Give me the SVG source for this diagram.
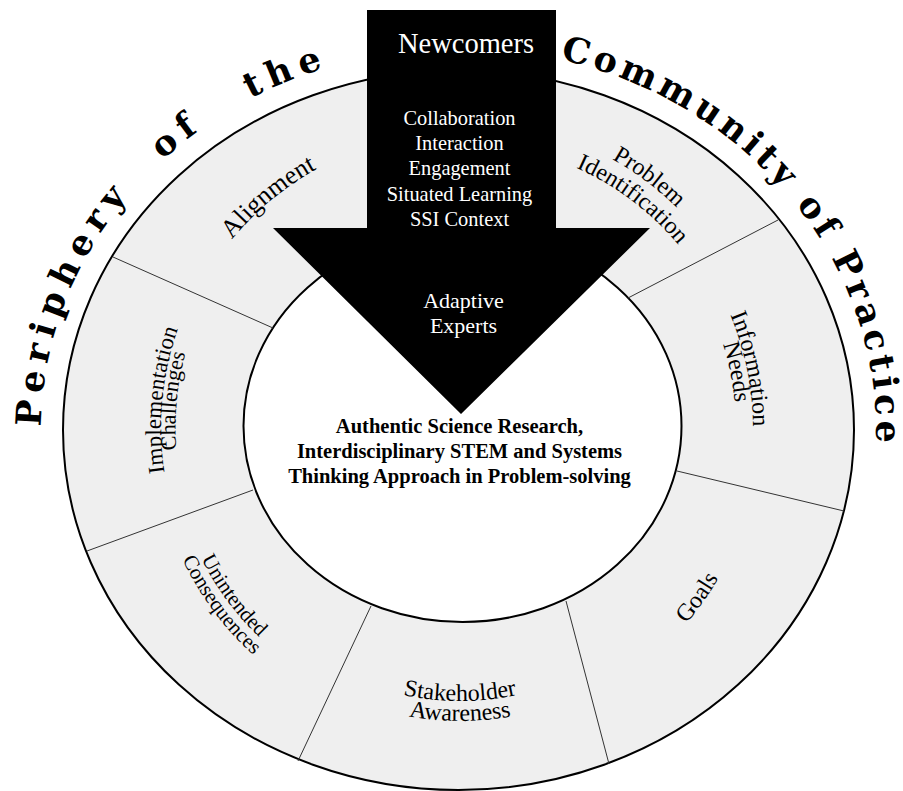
<svg xmlns="http://www.w3.org/2000/svg" width="903" height="791" viewBox="0 0 903 791">
<style>
.lbl{font-family:"Liberation Serif","Times New Roman",serif;fill:#000;text-anchor:middle}
.wt{font-family:"Liberation Serif","Times New Roman",serif;fill:#fff;text-anchor:middle}
.rim{font-family:"DejaVu Serif",serif;font-weight:bold;font-size:35px;fill:#000}
.ctr{font-family:"Liberation Serif","Times New Roman",serif;font-weight:bold;font-size:20.5px;text-anchor:middle;fill:#000}
.div{stroke:#333;stroke-width:1}
</style>
<defs>
<path id="rimp" d="M 42.6 463.3 A 417.5 382 0 1 1 874.4 463.3"/>
<path id="a1" d="M -256.3 -148 A 296 296 0 0 1 256.3 -148"/>
<path id="a2" d="M -267.6 -154.5 A 309 309 0 0 1 267.6 -154.5"/>
<path id="a3" d="M -246.8 -142.5 A 285 285 0 0 1 246.8 -142.5"/>
<path id="a4" d="M -253.7 -146.5 A 293 293 0 0 1 253.7 -146.5"/>
<path id="a5" d="M -239 -138 A 276 276 0 0 1 239 -138"/>
<path id="a6" d="M -258.9 149.5 A 299 299 0 0 0 258.9 149.5"/>
<path id="a7" d="M -236.4 136.5 A 273 273 0 0 0 236.4 136.5"/>
<path id="a8" d="M -253.7 146.5 A 293 293 0 0 0 253.7 146.5"/>
<path id="a9" d="M -251.1 145 A 290 290 0 0 0 251.1 145"/>
<path id="a10" d="M -265.9 153.5 A 307 307 0 0 0 265.9 153.5"/>
<path id="a11" d="M -258.9 -149.5 A 299 299 0 0 1 258.9 -149.5"/>
<path id="a12" d="M -246.4 -142.25 A 284.5 284.5 0 0 1 246.4 -142.25"/>
</defs>
<rect width="903" height="791" fill="#fff"/>
<g id="ring">
<ellipse cx="458.5" cy="430" rx="395.5" ry="360" fill="#efefef" stroke="#000" stroke-width="2"/>
<ellipse cx="462.5" cy="426" rx="219" ry="196" fill="#fff" stroke="#000" stroke-width="2"/>
</g>
<g id="dividers">
<line class="div" x1="113" y1="257" x2="273" y2="328"/>
<line class="div" x1="87" y1="551" x2="253" y2="490"/>
<line class="div" x1="298" y1="761" x2="371" y2="606"/>
<line class="div" x1="609" y1="764" x2="566" y2="601"/>
<line class="div" x1="844" y1="511" x2="677" y2="471"/>
<line class="div" x1="778" y1="220" x2="628" y2="298"/>
</g>
<g id="seg-alignment" transform="translate(460,428) rotate(-39.7)">
<text class="lbl" font-size="26"><textPath href="#a1" startOffset="50%">Alignment</textPath></text>
</g>
<g id="seg-problem" transform="translate(460,428) rotate(37)">
<text class="lbl" font-size="24"><textPath href="#a2" startOffset="50%">Problem</textPath></text>
<text class="lbl" font-size="24"><textPath href="#a3" startOffset="50%">Identification</textPath></text>
</g>
<g id="seg-information" transform="translate(460,428) rotate(78.5)">
<text class="lbl" font-size="24"><textPath href="#a4" startOffset="50%">Information</textPath></text>
<text class="lbl" font-size="24"><textPath href="#a5" startOffset="50%">Needs</textPath></text>
</g>
<g id="seg-goals" transform="translate(460,428) rotate(-54.5)">
<text class="lbl" font-size="24"><textPath href="#a6" startOffset="50%">Goals</textPath></text>
</g>
<g id="seg-stakeholder" transform="translate(460,428)">
<text class="lbl" font-size="24"><textPath href="#a7" startOffset="50%">Stakeholder</textPath></text>
<text class="lbl" font-size="24"><textPath href="#a8" startOffset="50%">Awareness</textPath></text>
</g>
<g id="seg-unintended" transform="translate(460,428) rotate(53.5)">
<text class="lbl" font-size="21"><textPath href="#a9" startOffset="50%">Unintended</textPath></text>
<text class="lbl" font-size="21"><textPath href="#a10" startOffset="50%">Consequences</textPath></text>
</g>
<g id="seg-implementation" transform="translate(460,428) rotate(-84.6)">
<text class="lbl" font-size="23"><textPath href="#a11" startOffset="50%">Implementation</textPath></text>
<text class="lbl" font-size="22"><textPath href="#a12" startOffset="50%">Challenges</textPath></text>
</g>
<g id="center">
<text class="ctr" x="459.5" y="433">Authentic Science Research,</text>
<text class="ctr" x="459.5" y="458">Interdisciplinary STEM and Systems</text>
<text class="ctr" x="459.5" y="483">Thinking Approach in Problem-solving</text>
</g>
<g id="arrow">
<polygon points="367,10 556,10 556,228 650,228 461,414 273,228 367,228" fill="#000"/>
<text class="wt" x="466" y="53" font-size="28.5">Newcomers</text>
<text class="wt" x="459.5" y="125" font-size="20.4">Collaboration</text>
<text class="wt" x="459.5" y="150" font-size="20.4">Interaction</text>
<text class="wt" x="459.5" y="175" font-size="20.4">Engagement</text>
<text class="wt" x="459.5" y="201" font-size="20.4">Situated Learning</text>
<text class="wt" x="459.5" y="226" font-size="20.4">SSI Context</text>
<text class="wt" x="463.5" y="308" font-size="22">Adaptive</text>
<text class="wt" x="463.5" y="333" font-size="22">Experts</text>
</g>
<g id="rim-text">
<text class="rim" letter-spacing="7.5"><textPath href="#rimp" startOffset="36.5">Periphery <tspan dx="24">of</tspan> <tspan dx="34">the</tspan></textPath></text>
<text class="rim" letter-spacing="4.4"><textPath href="#rimp" startOffset="763.8">Community of Practice</textPath></text>
</g>
</svg>
